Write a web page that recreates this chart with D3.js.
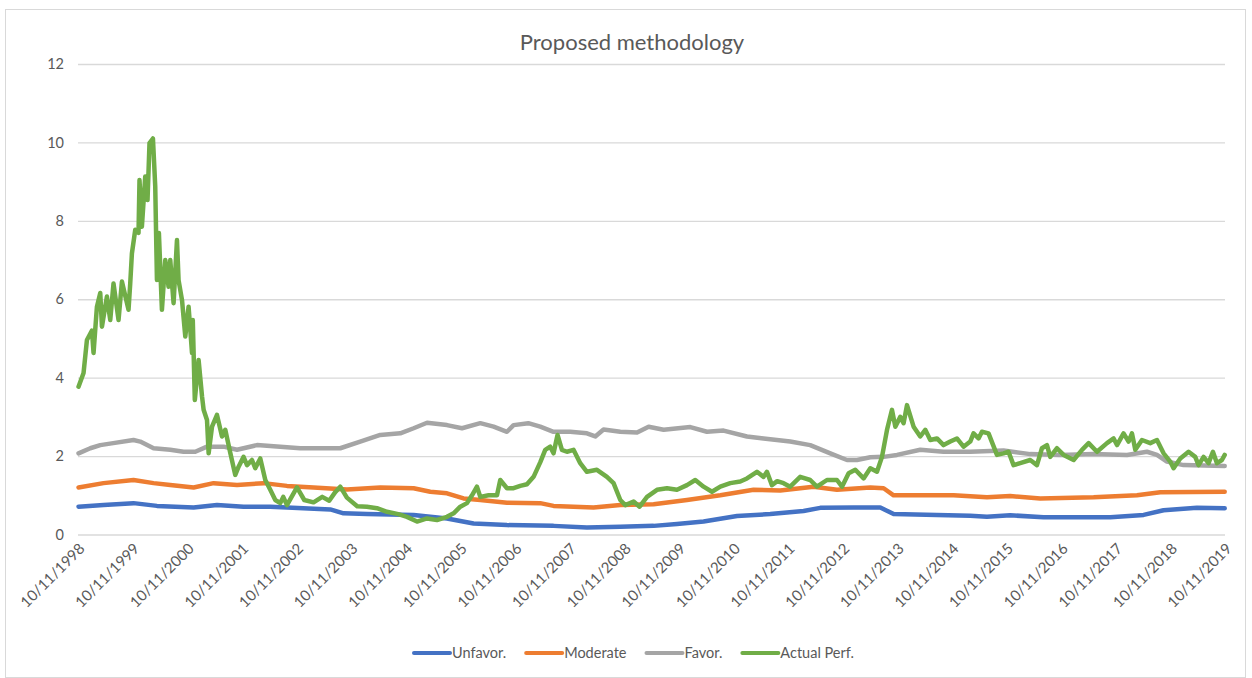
<!DOCTYPE html>
<html>
<head>
<meta charset="utf-8">
<script src="https://cdn.jsdelivr.net/npm/d3@7"></script>
<style>
  html, body { margin: 0; padding: 0; background: #fff; }
  svg { display: block; }
</style>
</head>
<body>
<svg id="chart"></svg>
<script>
// values, [decimal year, value]
const unfavor = [
  [1998.785, 0.71], [1999.243, 0.75], [1999.792, 0.80], [2000.221, 0.73], [2000.891, 0.69],
  [2001.319, 0.75], [2001.806, 0.71], [2002.295, 0.71], [2002.601, 0.69], [2003.394, 0.64],
  [2003.637, 0.54], [2004.066, 0.52], [2004.919, 0.50], [2005.530, 0.41], [2006.017, 0.28],
  [2006.629, 0.24], [2007.482, 0.22], [2008.093, 0.18], [2008.703, 0.20], [2009.313, 0.22],
  [2009.741, 0.27], [2010.228, 0.33], [2010.840, 0.47], [2011.449, 0.52], [2012.059, 0.60],
  [2012.365, 0.68], [2012.974, 0.69], [2013.463, 0.69], [2013.707, 0.52], [2014.501, 0.50],
  [2015.111, 0.48], [2015.417, 0.45], [2015.843, 0.49], [2016.453, 0.44], [2017.674, 0.44],
  [2018.284, 0.50], [2018.650, 0.62], [2019.261, 0.68], [2019.770, 0.67]
];

const moderate = [
  [1998.785, 1.20], [1999.243, 1.31], [1999.792, 1.39], [2000.159, 1.31], [2000.464, 1.26],
  [2000.891, 1.20], [2001.257, 1.31], [2001.686, 1.26], [2002.172, 1.31], [2002.601, 1.24],
  [2003.088, 1.20], [2003.699, 1.15], [2004.309, 1.20], [2004.919, 1.18], [2005.224, 1.09],
  [2005.530, 1.05], [2005.834, 0.92], [2006.140, 0.88], [2006.629, 0.81], [2007.238, 0.80],
  [2007.482, 0.73], [2008.214, 0.69], [2008.703, 0.75], [2009.313, 0.77], [2009.924, 0.88],
  [2010.534, 1.00], [2011.143, 1.14], [2011.632, 1.12], [2012.242, 1.22], [2012.670, 1.14],
  [2013.280, 1.20], [2013.524, 1.18], [2013.707, 1.00], [2014.195, 1.00], [2014.805, 1.00],
  [2015.417, 0.95], [2015.843, 0.98], [2016.392, 0.92], [2017.368, 0.95], [2018.163, 1.00],
  [2018.590, 1.08], [2019.770, 1.09]
];

const favor = [
  [1998.785, 2.07], [1999.000, 2.20], [1999.183, 2.28], [1999.421, 2.33], [1999.792, 2.41],
  [1999.915, 2.37], [2000.159, 2.20], [2000.464, 2.16], [2000.708, 2.11], [2000.922, 2.11],
  [2001.136, 2.24], [2001.440, 2.24], [2001.686, 2.16], [2002.052, 2.28], [2002.478, 2.24],
  [2002.844, 2.20], [2003.577, 2.20], [2003.943, 2.37], [2004.309, 2.54], [2004.675, 2.58],
  [2004.919, 2.71], [2005.164, 2.85], [2005.530, 2.79], [2005.805, 2.71], [2006.140, 2.84],
  [2006.384, 2.75], [2006.629, 2.62], [2006.750, 2.79], [2007.019, 2.84], [2007.238, 2.75],
  [2007.482, 2.62], [2007.788, 2.62], [2008.093, 2.58], [2008.246, 2.50], [2008.397, 2.68],
  [2008.703, 2.62], [2009.009, 2.60], [2009.221, 2.75], [2009.496, 2.67], [2009.985, 2.74],
  [2010.290, 2.62], [2010.594, 2.65], [2011.023, 2.50], [2011.327, 2.45], [2011.815, 2.37],
  [2012.181, 2.28], [2012.548, 2.07], [2012.853, 1.90], [2013.036, 1.90], [2013.280, 1.97],
  [2013.524, 1.98], [2013.769, 2.03], [2014.195, 2.16], [2014.622, 2.11], [2015.111, 2.11],
  [2015.721, 2.14], [2016.209, 2.05], [2016.759, 2.03], [2017.368, 2.05], [2017.980, 2.03],
  [2018.346, 2.11], [2018.529, 2.03], [2018.712, 1.86], [2019.016, 1.77], [2019.770, 1.75]
];

const actualPerf = [
  [1998.785, 3.77], [1998.877, 4.12], [1998.939, 4.96], [1999.031, 5.20], [1999.060, 4.63],
  [1999.122, 5.81], [1999.183, 6.16], [1999.214, 5.30], [1999.305, 6.07], [1999.366, 5.47],
  [1999.426, 6.40], [1999.518, 5.47], [1999.580, 6.45], [1999.701, 5.73], [1999.732, 6.40],
  [1999.763, 7.17], [1999.824, 7.77], [1999.884, 7.69], [1999.902, 9.04], [1999.946, 7.85],
  [2000.007, 9.13], [2000.049, 8.53], [2000.085, 9.98], [2000.148, 10.10], [2000.190, 8.87],
  [2000.221, 6.49], [2000.257, 7.69], [2000.312, 5.73], [2000.373, 7.00], [2000.433, 6.32],
  [2000.464, 7.00], [2000.525, 5.90], [2000.587, 7.51], [2000.616, 6.49], [2000.679, 5.98],
  [2000.739, 5.05], [2000.799, 5.81], [2000.862, 4.63], [2000.876, 5.47], [2000.913, 3.43],
  [2000.982, 4.45], [2001.045, 3.52], [2001.074, 3.18], [2001.136, 2.92], [2001.166, 2.07],
  [2001.228, 2.75], [2001.319, 3.05], [2001.411, 2.50], [2001.471, 2.67], [2001.563, 2.08],
  [2001.654, 1.52], [2001.715, 1.73], [2001.806, 1.98], [2001.869, 1.77], [2001.960, 1.90],
  [2002.020, 1.69], [2002.112, 1.94], [2002.204, 1.39], [2002.295, 1.14], [2002.387, 0.88],
  [2002.478, 0.80], [2002.533, 0.96], [2002.601, 0.75], [2002.784, 1.20], [2002.918, 0.88],
  [2003.088, 0.82], [2003.247, 0.96], [2003.375, 0.86], [2003.485, 1.08], [2003.577, 1.22],
  [2003.699, 0.94], [2003.888, 0.72], [2004.066, 0.71], [2004.249, 0.67], [2004.432, 0.58],
  [2004.639, 0.52], [2004.798, 0.45], [2004.981, 0.33], [2005.164, 0.41], [2005.347, 0.37],
  [2005.530, 0.45], [2005.651, 0.54], [2005.774, 0.71], [2005.896, 0.80], [2005.988, 1.00],
  [2006.079, 1.22], [2006.140, 0.96], [2006.292, 1.00], [2006.446, 1.00], [2006.506, 1.39],
  [2006.629, 1.18], [2006.750, 1.18], [2006.872, 1.24], [2006.995, 1.28], [2007.116, 1.47],
  [2007.238, 1.84], [2007.330, 2.16], [2007.421, 2.24], [2007.482, 2.07], [2007.555, 2.54],
  [2007.636, 2.16], [2007.727, 2.11], [2007.848, 2.16], [2007.971, 1.82], [2008.093, 1.60],
  [2008.276, 1.65], [2008.459, 1.47], [2008.580, 1.31], [2008.703, 0.88], [2008.795, 0.75],
  [2008.946, 0.84], [2009.056, 0.71], [2009.192, 0.96], [2009.375, 1.14], [2009.558, 1.18],
  [2009.741, 1.14], [2009.924, 1.26], [2010.076, 1.39], [2010.228, 1.22], [2010.382, 1.09],
  [2010.534, 1.22], [2010.717, 1.31], [2010.900, 1.35], [2011.023, 1.43], [2011.206, 1.60],
  [2011.327, 1.47], [2011.389, 1.60], [2011.480, 1.26], [2011.577, 1.36], [2011.693, 1.31],
  [2011.815, 1.22], [2011.998, 1.47], [2012.181, 1.39], [2012.304, 1.22], [2012.487, 1.39],
  [2012.670, 1.39], [2012.762, 1.22], [2012.883, 1.56], [2013.005, 1.65], [2013.157, 1.43],
  [2013.280, 1.69], [2013.402, 1.60], [2013.494, 1.98], [2013.586, 2.67], [2013.677, 3.18],
  [2013.738, 2.75], [2013.829, 3.00], [2013.890, 2.84], [2013.952, 3.30], [2014.073, 2.75],
  [2014.195, 2.50], [2014.287, 2.67], [2014.379, 2.41], [2014.501, 2.45], [2014.622, 2.28],
  [2014.745, 2.37], [2014.867, 2.45], [2014.988, 2.24], [2015.111, 2.37], [2015.171, 2.58],
  [2015.263, 2.45], [2015.325, 2.62], [2015.446, 2.58], [2015.600, 2.03], [2015.721, 2.07],
  [2015.812, 2.11], [2015.904, 1.77], [2016.026, 1.82], [2016.209, 1.90], [2016.332, 1.77],
  [2016.423, 2.20], [2016.515, 2.28], [2016.575, 1.98], [2016.698, 2.20], [2016.819, 2.03],
  [2017.002, 1.90], [2017.156, 2.16], [2017.277, 2.33], [2017.430, 2.11], [2017.613, 2.33],
  [2017.735, 2.45], [2017.797, 2.28], [2017.917, 2.58], [2018.009, 2.37], [2018.071, 2.58],
  [2018.132, 2.16], [2018.254, 2.41], [2018.406, 2.33], [2018.529, 2.41], [2018.650, 2.07],
  [2018.772, 1.86], [2018.833, 1.69], [2018.956, 1.94], [2019.108, 2.11], [2019.230, 1.98],
  [2019.291, 1.77], [2019.383, 1.98], [2019.474, 1.82], [2019.554, 2.11], [2019.628, 1.82],
  [2019.719, 1.90], [2019.770, 2.03]
];

const tickYears = d3.range(1998, 2020);
const yTicks = [0, 2, 4, 6, 8, 10, 12];

const series = [
  { name: "Unfavor.", color: "#4472C4", values: unfavor },
  { name: "Moderate", color: "#ED7D31", values: moderate },
  { name: "Favor.", color: "#A5A5A5", values: favor },
  { name: "Actual Perf.", color: "#70AD47", values: actualPerf }
];

const width = 1252, height = 678;
const margin = { top: 64, right: 27, bottom: 143.5, left: 78 };
const font = "Lato, 'Open Sans', sans-serif";

// decimal year -> Date
function toDate(t) {
  const y = Math.floor(t);
  const a = Date.UTC(y, 0, 1), b = Date.UTC(y + 1, 0, 1);
  return new Date(a + (t - y) * (b - a));
}

const svg = d3.select("#chart")
  .attr("width", width)
  .attr("height", height)
  .attr("viewBox", [0, 0, width, height]);

// chart area border
svg.append("rect")
  .attr("x", 5.5).attr("y", 9.5)
  .attr("width", 1240).attr("height", 668)
  .attr("fill", "#fff")
  .attr("stroke", "#D9D9D9");

const x = d3.scaleUtc()
  .domain([new Date(Date.UTC(1998, 9, 11)), new Date(Date.UTC(2019, 9, 11))])
  .range([margin.left, width - margin.right]);

const y = d3.scaleLinear()
  .domain([0, 12])
  .range([height - margin.bottom, margin.top]);

svg.append("text")
  .attr("x", 632)
  .attr("y", 50)
  .attr("text-anchor", "middle")
  .attr("fill", "#595959")
  .style("font", `22px ${font}`)
  .text("Proposed methodology");

// y axis with gridlines
svg.append("g")
  .attr("transform", `translate(${margin.left},0)`)
  .call(d3.axisLeft(y).tickValues(yTicks).tickSize(0).tickPadding(14))
  .call(g => g.select(".domain").remove())
  .call(g => g.selectAll(".tick line").clone()
    .attr("x2", width - margin.left - margin.right)
    .attr("stroke", "#D9D9D9")
    .attr("stroke-width", 1.3))
  .call(g => g.selectAll(".tick text")
    .attr("fill", "#595959")
    .style("font", `14.5px ${font}`));

// x axis with rotated date labels
svg.append("g")
  .attr("transform", `translate(0,${height - margin.bottom})`)
  .call(d3.axisBottom(x)
    .tickValues(tickYears.map(yr => new Date(Date.UTC(yr, 9, 11))))
    .tickFormat(d3.utcFormat("%m/%d/%Y"))
    .tickSize(0))
  .call(g => g.select(".domain").remove())
  .call(g => g.selectAll(".tick text")
    .attr("fill", "#595959")
    .style("font", `15px ${font}`)
    .attr("text-anchor", "end")
    .attr("dy", 0)
    .attr("transform", "translate(5,13) rotate(-45)"));

const line = d3.line()
  .x(d => x(toDate(d[0])))
  .y(d => y(d[1]));

svg.append("g")
  .selectAll("path")
  .data(series)
  .join("path")
  .attr("fill", "none")
  .attr("stroke", d => d.color)
  .attr("stroke-width", 4.5)
  .attr("stroke-linejoin", "round")
  .attr("stroke-linecap", "round")
  .attr("d", d => line(d.values));

// legend
const legend = svg.append("g").attr("transform", "translate(0,653)");
let lx = 414;
series.forEach(s => {
  const item = legend.append("g").attr("transform", `translate(${lx},0)`);
  item.append("line")
    .attr("x1", 0).attr("x2", 36)
    .attr("stroke", s.color)
    .attr("stroke-width", 4)
    .attr("stroke-linecap", "round");
  const t = item.append("text")
    .attr("x", 38)
    .attr("dy", "0.35em")
    .attr("fill", "#595959")
    .style("font", `14.5px ${font}`)
    .text(s.name);
  lx += 38 + t.node().getComputedTextLength() + 20;
});
</script>
</body>
</html>
